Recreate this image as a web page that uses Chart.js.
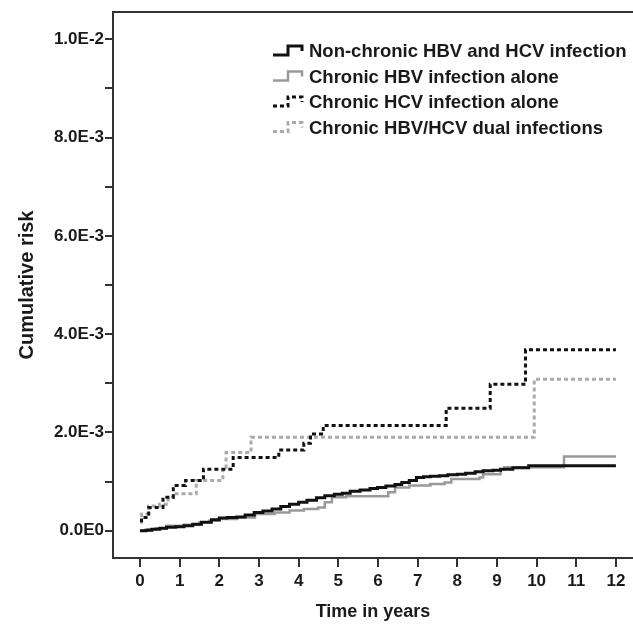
<!DOCTYPE html>
<html>
<head>
<meta charset="utf-8">
<script src="https://cdn.jsdelivr.net/npm/chart.js@4"></script>
<style>
  body { margin: 0; background: #fff; }
  canvas { display: block; }
</style>
</head>
<body>
<canvas id="chart" width="633" height="629"></canvas>
<script>
// cumulative risk values are in units of 1E-3, time in years
const seriesNames = [
  'Non-chronic HBV and HCV infection',
  'Chronic HBV infection alone',
  'Chronic HCV infection alone',
  'Chronic HBV/HCV dual infections'
];

const nonChronicT = [0, 0.15, 0.3, 0.5, 0.67, 0.9, 1.11, 1.33, 1.55, 1.8, 2.0, 2.2, 2.44, 2.65, 2.88, 3.1, 3.33, 3.55, 3.77, 4.0, 4.21, 4.45, 4.66, 4.9, 5.1, 5.3, 5.55, 5.8, 5.99, 6.2, 6.43, 6.6, 6.79, 6.97, 7.15, 7.32, 7.55, 7.76, 8.0, 8.21, 8.45, 8.65, 8.9, 9.09, 9.4, 9.8, 12];
const nonChronicY = [0, 0.01, 0.03, 0.05, 0.07, 0.08, 0.1, 0.13, 0.17, 0.22, 0.26, 0.27, 0.28, 0.32, 0.37, 0.4, 0.44, 0.49, 0.54, 0.58, 0.62, 0.67, 0.71, 0.74, 0.76, 0.8, 0.83, 0.86, 0.88, 0.91, 0.94, 0.98, 1.02, 1.08, 1.1, 1.11, 1.12, 1.14, 1.15, 1.17, 1.2, 1.22, 1.23, 1.25, 1.28, 1.32, 1.32];

const hbvT = [0, 0.2, 0.4, 0.67, 1.1, 1.5, 1.75, 2.0, 2.45, 2.9, 3.4, 3.77, 4.13, 4.49, 4.66, 4.84, 5.2, 6.26, 6.43, 6.79, 7.32, 7.68, 7.85, 8.56, 8.65, 9.09, 9.18, 10.69, 12];
const hbvY = [0, 0.03, 0.05, 0.1, 0.12, 0.17, 0.2, 0.24, 0.27, 0.34, 0.37, 0.41, 0.44, 0.47, 0.58, 0.68, 0.7, 0.78, 0.88, 0.92, 0.95, 0.98, 1.05, 1.08, 1.15, 1.25, 1.29, 1.51, 1.51];

const hcvT = [0, 0.04, 0.22, 0.58, 0.84, 1.15, 1.6, 2.35, 3.5, 4.13, 4.3, 4.62, 7.72, 8.83, 9.72, 12];
const hcvY = [0.2, 0.27, 0.47, 0.68, 0.92, 1.02, 1.25, 1.49, 1.64, 1.78, 1.97, 2.14, 2.49, 2.98, 3.68, 3.68];

const dualT = [0, 0.04, 0.22, 0.49, 0.71, 0.84, 1.42, 2.09, 2.17, 2.8, 9.94, 12];
const dualY = [0.17, 0.34, 0.5, 0.54, 0.68, 0.75, 1.02, 1.29, 1.59, 1.9, 3.08, 3.08];

const xTicks = [0, 1, 2, 3, 4, 5, 6, 7, 8, 9, 10, 11, 12];

const FONT = '"Liberation Sans", Arial, sans-serif';
const INK = '#1a1a1a';

function points(ts, ys){
  return ts.map((t, i) => ({ x: t, y: ys[i] / 1000 }));
}

function sciLabel(v){
  if(Math.abs(v) < 1e-12) return '0.0E0';
  const exp = Math.floor(Math.log10(v) + 1e-9);
  const mant = v / Math.pow(10, exp);
  return `${mant.toFixed(1)}E${exp}`;
}

const styles = [
  { color: '#111111', width: 3, dash: [] },
  { color: '#9a9a9a', width: 2.5, dash: [] },
  { color: '#111111', width: 3, dash: [4, 3] },
  { color: '#ababab', width: 3, dash: [4, 3] }
];

const datasets = [
  points(nonChronicT, nonChronicY),
  points(hbvT, hbvY),
  points(hcvT, hcvY),
  points(dualT, dualY)
].map((d, i) => ({
  label: seriesNames[i],
  data: d,
  borderColor: styles[i].color,
  borderWidth: styles[i].width,
  borderDash: styles[i].dash,
  stepped: 'before',
  pointRadius: 0,
  fill: false
}));

// top border of the box and the step-shaped legend
const boxAndLegend = {
  id: 'boxAndLegend',
  afterDraw(chart){
    const ctx = chart.ctx;
    const area = chart.chartArea;
    ctx.save();
    ctx.strokeStyle = '#333';
    ctx.lineWidth = 2;
    ctx.beginPath();
    ctx.moveTo(area.left - 1, area.top);
    ctx.lineTo(area.right, area.top);
    ctx.stroke();

    const x0 = area.left + 160;
    let y = area.top + 39;
    chart.data.datasets.forEach(ds => {
      ctx.strokeStyle = ds.borderColor;
      ctx.lineWidth = ds.borderWidth;
      ctx.setLineDash(ds.borderDash);
      ctx.beginPath();
      ctx.moveTo(x0, y + 4);
      ctx.lineTo(x0 + 15, y + 4);
      ctx.lineTo(x0 + 15, y - 5);
      ctx.lineTo(x0 + 29, y - 5);
      ctx.lineTo(x0 + 29, y);
      ctx.stroke();
      ctx.setLineDash([]);
      ctx.fillStyle = INK;
      ctx.font = `bold 18.5px ${FONT}`;
      ctx.textBaseline = 'middle';
      ctx.fillText(ds.label, x0 + 36, y + 1);
      y += 25.5;
    });
    ctx.restore();
  }
};

new Chart(document.getElementById('chart').getContext('2d'), {
  type: 'line',
  data: { datasets },
  plugins: [boxAndLegend],
  options: {
    responsive: false,
    animation: false,
    layout: { padding: { top: 12, right: 0, left: 0, bottom: 0 } },
    plugins: { legend: { display: false }, tooltip: { enabled: false } },
    scales: {
      x: {
        type: 'linear',
        min: -0.68,
        max: 12.43,
        afterFit: s => { s.height = 71; },
        afterBuildTicks: s => { s.ticks = xTicks.map(v => ({ value: v })); },
        grid: { drawOnChartArea: false, color: '#333', lineWidth: 2, tickLength: 9 },
        border: { display: true, color: '#333', width: 2 },
        ticks: { color: INK, font: { family: FONT, size: 17, weight: 'bold' }, padding: 4, maxRotation: 0 },
        title: { display: true, text: 'Time in years', color: INK, font: { family: FONT, size: 18, weight: 'bold' }, padding: { top: 0, bottom: 6 } }
      },
      y: {
        min: -0.000556,
        max: 0.010556,
        afterFit: s => { s.width = 113; },
        grid: { drawOnChartArea: false, color: '#333', lineWidth: 2, tickLength: 8 },
        border: { display: true, color: '#333', width: 2 },
        ticks: {
          stepSize: 0.001,
          includeBounds: false,
          color: INK,
          padding: 1,
          font: { family: FONT, size: 17, weight: 'bold' },
          callback: v => (Math.round(v * 1000) % 2 === 0 ? sciLabel(v) : '')
        },
        title: { display: true, text: 'Cumulative risk', color: INK, font: { family: FONT, size: 20, weight: 'bold' }, padding: { top: 15, bottom: 0 } }
      }
    }
  }
});
</script>
</body>
</html>
